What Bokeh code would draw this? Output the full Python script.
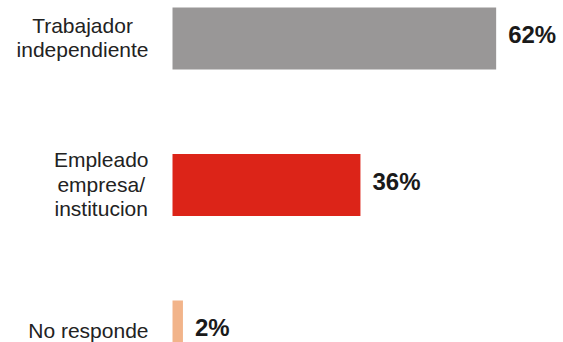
from bokeh.plotting import figure
from bokeh.models import ColumnDataSource, Range1d
from bokeh.core.properties import value
from bokeh.embed import file_html
from bokeh.resources import INLINE

# Data
categories = ["Trabajador\nindependiente", "Empleado\nempresa/\ninstitucion", "No responde"]
percentages = [62, 36, 2]
value_labels = ["62%", "36%", "2%"]

# Styles
bar_colors = ["#999797", "#dc2418", "#f2b48a"]

positions = list(range(len(categories)))
src = ColumnDataSource(dict(
    y=positions,
    pct=percentages,
    cat=categories,
    lab=value_labels,
    color=bar_colors,
))

p = figure(
    width=563, height=342,
    output_backend="svg", toolbar_location=None,
    x_range=Range1d(-32.95, 74.9),
    y_range=Range1d(2.075, -0.2594),
    min_border=0, min_border_left=0, min_border_right=0,
    min_border_top=0, min_border_bottom=0,
    x_axis_type=None, y_axis_type=None,
)
p.outline_line_color = None
p.grid.visible = False
p.background_fill_color = "white"
p.border_fill_color = "white"

p.hbar(y="y", left=0, right="pct", height=0.423, source=src,
       fill_color="color", line_color=None)

p.text(x=0, y="y", text="cat", source=src,
       x_offset=-24, y_offset=-1, text_align="center", text_baseline="middle",
       anchor=value("center_right"),
       text_font=value("Liberation Sans"), text_font_size="21px",
       text_color="#222222", text_line_height=1.06)

p.text(x="pct", y="y", text="lab", source=src,
       x_offset=12, y_offset=-4, text_align="left", text_baseline="middle",
       text_font=value("Liberation Sans"), text_font_size="24px",
       text_font_style="bold", text_color="#1a1a1a")

open("out.html", "w").write(file_html(p, INLINE))
